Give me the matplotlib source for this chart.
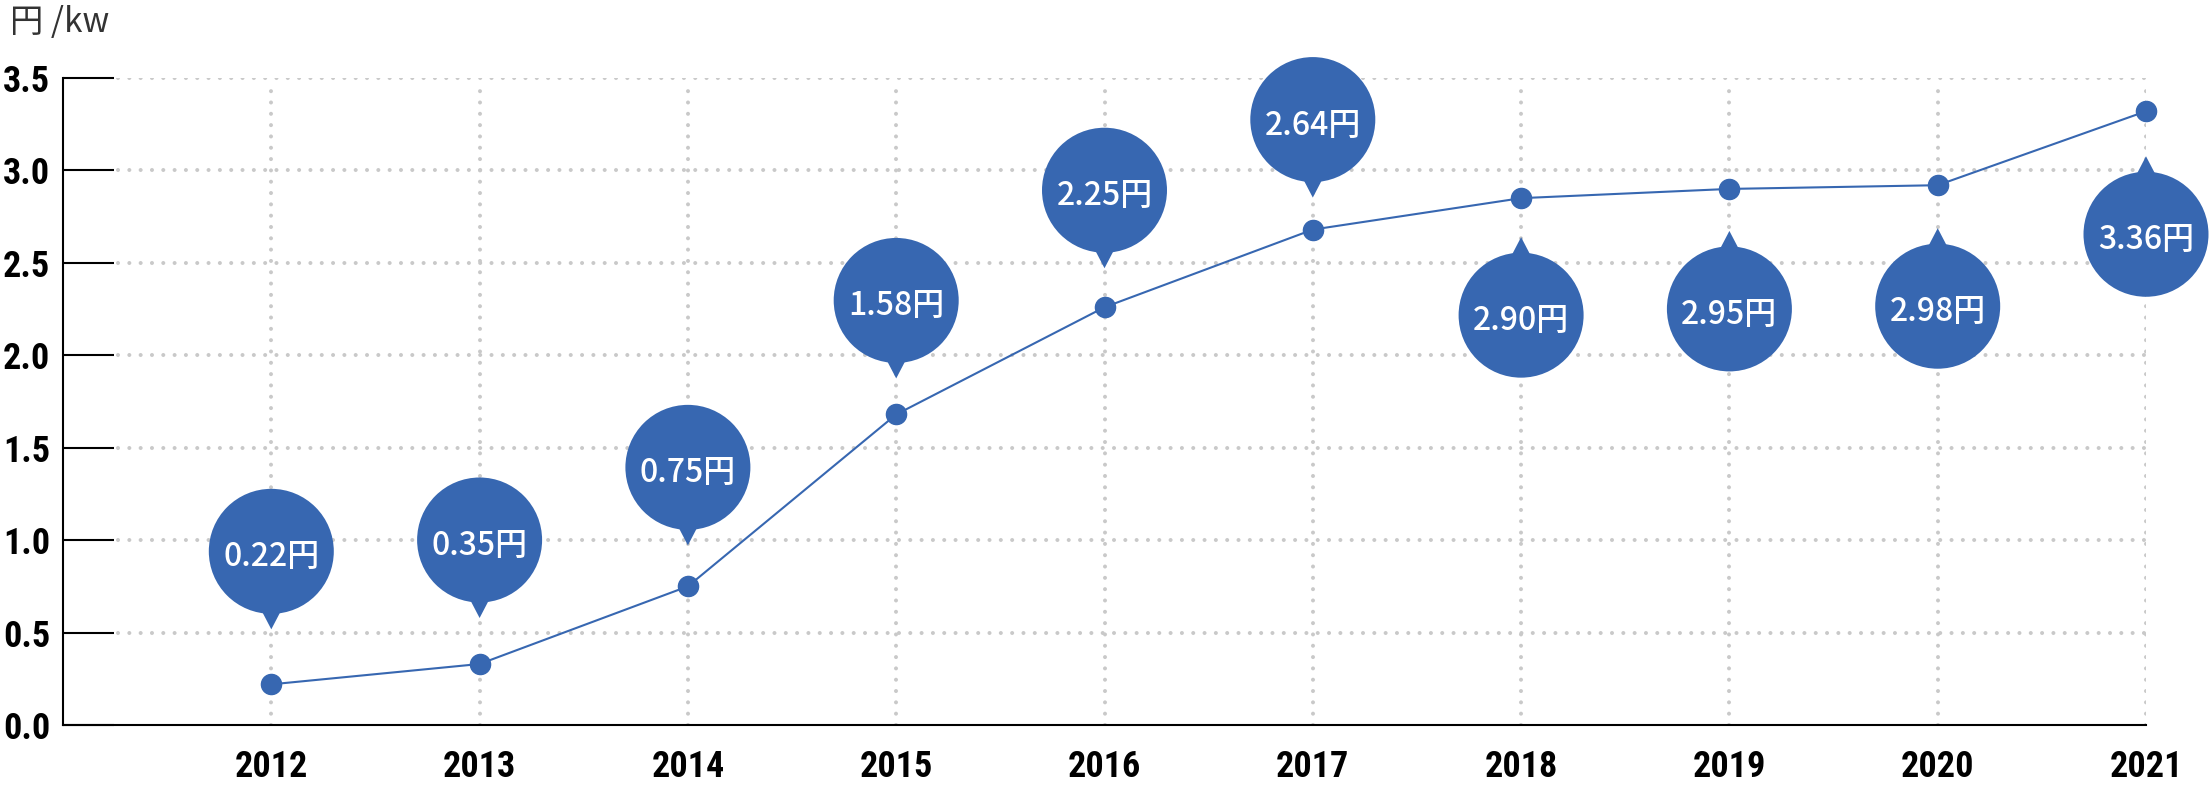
import matplotlib.pyplot as plt
import matplotlib.transforms as mtransforms
from matplotlib.patches import Circle, Polygon

years = [2012, 2013, 2014, 2015, 2016, 2017, 2018, 2019, 2020, 2021]
values = [0.22, 0.33, 0.75, 1.68, 2.26, 2.68, 2.85, 2.90, 2.92, 3.32]
bubble_labels = ['0.22円', '0.35円', '0.75円', '1.58円', '2.25円',
                 '2.64円', '2.90円', '2.95円', '2.98円', '3.36円']
y_ticks = [0.0, 0.5, 1.0, 1.5, 2.0, 2.5, 3.0, 3.5]

# bubble placement: +1 above the point, -1 below; distance in pixels
bubble_side = [1, 1, 1, 1, 1, 1, -1, -1, -1, -1]
bubble_dist = [133, 124, 119, 114, 117, 110, 117, 120, 121, 123]

blue = '#3767b1'
grid_col = '#c9c9c9'
num_font = ['Roboto Condensed', 'Liberation Sans Narrow', 'DejaVu Sans']

fig = plt.figure(figsize=(22.12, 7.86), dpi=100)
ax = fig.add_axes([63/2212, 1 - 725/786, (2146 - 63)/2212, (725 - 78)/786])
ax.set_xlim(2011, 2021)
ax.set_ylim(0, 3.5)

dots = (0, (0.01, 2.8))
ax.hlines(y_ticks[1:], 2011.264, 2021, colors=grid_col, linewidth=2.9,
          linestyles=[dots], capstyle='round', zorder=1)
ax.vlines(years, 0, 3.49, colors=grid_col, linewidth=2.9,
          linestyles=[dots], capstyle='round', zorder=1)

ax.plot(years, values, '-o', color=blue, lw=1.5, ms=14.5, zorder=3, clip_on=False)

for x, v, lab, side, dist in zip(years, values, bubble_labels, bubble_side, bubble_dist):
    trans = fig.dpi_scale_trans + mtransforms.ScaledTranslation(x, v, ax.transData)
    cy = side * dist / 100
    ax.add_patch(Circle((0, cy), 0.625, transform=trans, facecolor=blue,
                        edgecolor='none', zorder=4, clip_on=False))
    tip = cy - side * 0.78
    base = cy - side * 0.55
    ax.add_patch(Polygon([(-0.12, base), (0.12, base), (0, tip)], closed=True,
                         transform=trans, facecolor=blue, edgecolor='none',
                         zorder=4, clip_on=False))
    ax.text(0, cy - 0.15, lab, transform=trans, ha='center', va='baseline',
            color='white', fontsize=23, fontweight='medium',
            family=['Noto Sans CJK JP', 'DejaVu Sans'], zorder=5)

ax.set_xticks(years)
ax.set_xticklabels([str(y) for y in years])
ax.set_yticks(y_ticks)
ax.set_yticklabels(['%.1f' % t for t in y_ticks])
for lab in ax.get_xticklabels() + ax.get_yticklabels():
    lab.set_family(num_font)
    lab.set_fontweight('bold')
    lab.set_fontstretch('condensed')
    lab.set_fontsize(26)
ax.tick_params(axis='x', length=0, pad=17)
ax.tick_params(axis='y', direction='in', length=37, width=1.5, pad=9)

for s in ['top', 'right']:
    ax.spines[s].set_visible(False)
for s in ['left', 'bottom']:
    ax.spines[s].set_linewidth(1.5)
    ax.spines[s].set_color('black')

fig.text(10/2212, 1 - 32/786, '円 /kw', ha='left', va='baseline', fontsize=24,
         color='#333333', family=['Noto Sans CJK JP', 'DejaVu Sans'])

fig.savefig('out.png', dpi=100)
